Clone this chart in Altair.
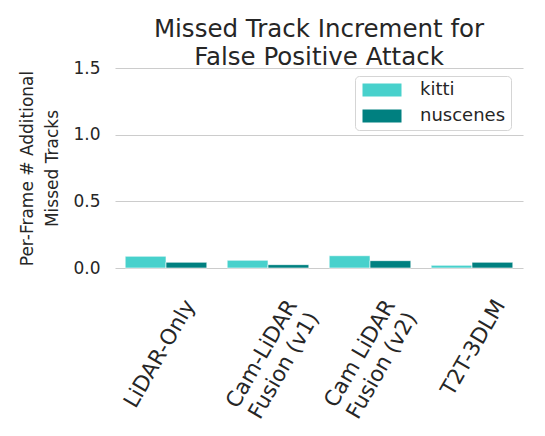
import altair as alt
import pandas as pd

categories = ["LiDAR-Only", "Cam-LiDAR\nFusion (v1)", "Cam LiDAR\nFusion (v2)", "T2T-3DLM"]
datasets = ["kitti", "nuscenes"]
kitti = [0.088, 0.058, 0.092, 0.020]
nuscenes = [0.043, 0.025, 0.055, 0.043]
colors = ["#48D1CC", "#008080"]
y_ticks = [0.0, 0.5, 1.0, 1.5]

rows = []
for c, k, n in zip(categories, kitti, nuscenes):
    rows.append({"model": c, "dataset": "kitti", "value": k})
    rows.append({"model": c, "dataset": "nuscenes", "value": n})
df = pd.DataFrame(rows)

font = "DejaVu Sans"
text_color = "#262626"

offset_cond = {
    "condition": [
        {"test": "indexof(datum.value, 'Only') >= 0", "value": 15},
        {"test": "indexof(datum.value, 'v1') >= 0", "value": 15},
        {"test": "indexof(datum.value, 'v2') >= 0", "value": 11},
    ],
    "value": 19,
}

chart = alt.Chart(df).mark_bar(stroke="white", strokeWidth=0.6).encode(
    x=alt.X(
        "model:N",
        sort=categories,
        scale=alt.Scale(paddingInner=0.2, paddingOuter=0.1),
        axis=alt.Axis(
            title="",
            labelAngle=300,
            labelAlign="right",
            labelBaseline="top",
            labelPadding=28,
            ticks=False,
            tickSize=0,
            domain=False,
            grid=False,
            labelFontSize=21.5,
            labelFont=font,
            labelColor=text_color,
            labelOverlap=False,
            labelExpr="split(datum.label, '\\n')",
            labelOffset=offset_cond,
            labelLineHeight=25,
        ),
    ),
    xOffset=alt.XOffset("dataset:N", sort=datasets),
    y=alt.Y(
        "value:Q",
        scale=alt.Scale(domain=[0, 1.5]),
        axis=alt.Axis(
            values=y_ticks,
            format=".1f",
            title=["Per-Frame # Additional", "Missed Tracks"],
            titleFont=font,
            titleFontSize=17,
            titleFontWeight="normal",
            titleColor=text_color,
            titlePadding=11,
            titleLineHeight=25,
            labelFont=font,
            labelFontSize=17,
            labelColor=text_color,
            labelPadding=15,
            ticks=False,
            tickSize=0,
            domain=False,
            gridColor="#cccccc",
            gridWidth=1.2,
        ),
    ),
    color=alt.Color(
        "dataset:N",
        sort=datasets,
        scale=alt.Scale(domain=datasets, range=colors),
        title="",
        legend=alt.Legend(
            orient="none",
            legendX=240,
            legendY=8,
            labelFont=font,
            labelFontSize=18,
            labelColor=text_color,
            symbolType="M-1,-1L5,-1L5,1L-1,1Z",
            symbolSize=169,
            symbolStrokeWidth=0,
            symbolOpacity=1,
            fillColor="white",
            strokeColor="#d5d5d5",
            cornerRadius=4,
            padding=5,
            rowPadding=8,
            labelOffset=42,
        ),
    ),
).properties(
    width=408,
    height=200,
    autosize=alt.AutoSizeParams(type="none"),
    padding={"left": 107, "top": 60, "right": 14, "bottom": 160},
    title=alt.TitleParams(
        ["Missed Track Increment for", "False Positive Attack"],
        fontSize=24.5,
        font=font,
        fontWeight="normal",
        color=text_color,
        anchor="middle",
        offset=-11,
        lineHeight=28,
    ),
).configure_view(strokeWidth=0)

chart.save("out.html", embed_options={"renderer": "svg", "actions": False})
